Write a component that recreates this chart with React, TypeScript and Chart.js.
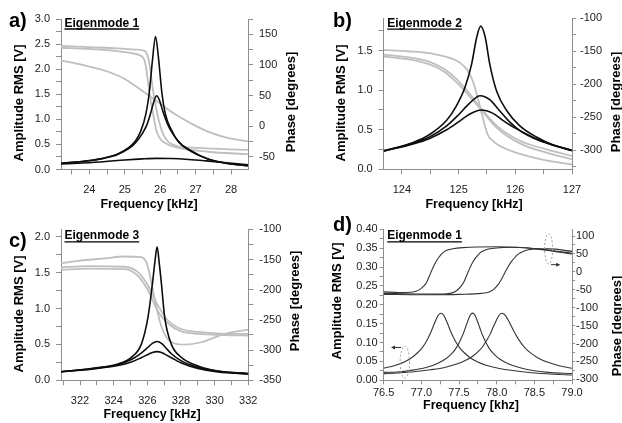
import React, { useEffect, useRef } from 'react';
import { Chart, registerables } from 'chart.js';

Chart.register(...registerables);

type Pt = [number, number];

// ---------- Panel a) Eigenmode 1 (frequency kHz, amplitude V, phase deg) ----------
const A_AMP_SHARP: Pt[] = [[23.2,0.125],[23.6,0.147],[24.0,0.178],[24.4,0.226],[24.8,0.31],[25.1,0.43],[25.3,0.57],[25.45,0.76],[25.6,1.12],[25.7,1.58],[25.78,2.16],[25.87,2.65],[25.95,2.24],[26.05,1.52],[26.15,1.1],[26.31,0.8],[26.5,0.57],[26.88,0.37],[27.35,0.21],[27.82,0.13],[28.48,0.075]];
const A_AMP_MID: Pt[] = [[23.2,0.124],[23.6,0.146],[24.0,0.176],[24.4,0.222],[24.8,0.3],[25.1,0.41],[25.3,0.53],[25.5,0.72],[25.63,0.9],[25.73,1.12],[25.82,1.35],[25.9,1.47],[25.98,1.38],[26.08,1.15],[26.2,0.92],[26.35,0.72],[26.55,0.53],[26.88,0.36],[27.35,0.21],[27.82,0.13],[28.48,0.075]];
const A_AMP_FLAT: Pt[] = [[23.2,0.11],[23.8,0.13],[24.4,0.155],[25.0,0.19],[25.5,0.212],[25.9,0.222],[26.3,0.218],[26.8,0.2],[27.3,0.172],[27.8,0.14],[28.48,0.095]];
const A_PH_EARLY: Pt[] = [[23.2,128],[24.0,126],[24.8,122.5],[25.3,118],[25.42,116],[25.5,113],[25.56,107],[25.6,96],[25.64,80],[25.68,61],[25.73,42],[25.8,20],[25.89,-7],[25.96,-17],[26.03,-23],[26.15,-28],[26.4,-34],[27.35,-42],[28.48,-46]];
const A_PH_LATE: Pt[] = [[23.2,131],[24.0,129],[24.8,127],[25.3,125],[25.56,123],[25.62,119],[25.67,110],[25.71,97],[25.75,80],[25.79,62],[25.84,43],[25.92,20],[26.03,-5],[26.1,-15],[26.2,-24],[26.31,-29],[26.5,-33],[26.8,-35],[27.5,-37],[28.48,-39]];
const A_PH_BROAD: Pt[] = [[23.2,107],[23.8,100],[24.47,90],[25.0,77],[25.41,61],[25.94,39],[26.4,20],[26.88,4],[27.35,-9],[27.82,-18],[28.48,-25]];

// ---------- Panel b) Eigenmode 2 ----------
const B_AMP_HIGH: Pt[] = [[123.68,0.235],[124.2,0.34],[124.49,0.44],[124.79,0.62],[124.96,0.8],[125.11,1.03],[125.23,1.33],[125.32,1.67],[125.39,1.81],[125.47,1.67],[125.55,1.33],[125.67,0.99],[125.85,0.74],[126.08,0.55],[126.38,0.405],[126.67,0.307],[127.0,0.235]];
const B_AMP_MID: Pt[] = [[123.68,0.233],[124.2,0.33],[124.49,0.41],[124.79,0.55],[125.0,0.69],[125.2,0.84],[125.38,0.93],[125.55,0.88],[125.7,0.76],[125.9,0.6],[126.1,0.48],[126.4,0.37],[126.7,0.3],[127.0,0.238]];
const B_AMP_LOW: Pt[] = [[123.68,0.23],[124.2,0.32],[124.49,0.39],[124.79,0.5],[125.0,0.6],[125.2,0.7],[125.4,0.75],[125.6,0.71],[125.8,0.61],[126.0,0.52],[126.3,0.41],[126.6,0.32],[127.0,0.24]];
const B_PH_SHARP: Pt[] = [[123.68,-148],[124.1,-150],[124.49,-153],[124.96,-164],[125.1,-173],[125.2,-185],[125.27,-200],[125.32,-215],[125.41,-245],[125.49,-271],[125.53,-279],[125.58,-284],[125.67,-291],[126.08,-306],[126.5,-315],[127.0,-322]];
const B_PH_BROAD1: Pt[] = [[123.68,-155],[124.1,-159],[124.49,-166],[124.75,-177],[124.96,-192],[125.2,-215],[125.38,-235],[125.67,-263],[126.08,-286],[126.55,-299],[127.0,-309]];
const B_PH_BROAD2: Pt[] = [[123.68,-158],[124.1,-162],[124.49,-170],[124.75,-181],[124.96,-197],[125.2,-219],[125.38,-237],[125.67,-266],[126.08,-290],[126.55,-304],[127.0,-314]];

// ---------- Panel c) Eigenmode 3 ----------
const C_AMP_HIGH: Pt[] = [[320.87,0.12],[322.67,0.165],[324.26,0.227],[325.05,0.32],[325.64,0.5],[326.04,0.88],[326.3,1.34],[326.45,1.65],[326.58,1.86],[326.7,1.65],[326.84,1.34],[327.03,0.88],[327.43,0.5],[328.02,0.32],[329.01,0.2],[330.2,0.13],[332.0,0.095]];
const C_AMP_MID: Pt[] = [[320.87,0.12],[322.67,0.16],[324.26,0.22],[325.05,0.29],[325.64,0.38],[326.04,0.46],[326.3,0.515],[326.58,0.54],[326.84,0.515],[327.03,0.47],[327.43,0.37],[328.02,0.27],[329.01,0.18],[330.2,0.125],[332.0,0.09]];
const C_AMP_LOW: Pt[] = [[320.87,0.118],[322.67,0.155],[324.26,0.205],[325.05,0.255],[325.64,0.315],[326.04,0.36],[326.3,0.388],[326.58,0.4],[326.84,0.388],[327.03,0.365],[327.43,0.315],[328.02,0.24],[329.01,0.165],[330.2,0.115],[332.0,0.088]];
const C_PH_NOISY: Pt[] = [[320.87,-156],[322.0,-152],[323.5,-148],[324.65,-145],[325.64,-146],[325.9,-152],[326.04,-163],[326.34,-202],[326.63,-240],[326.93,-268],[327.43,-287],[328.22,-291],[329.21,-287],[330.6,-273],[332.0,-266]];
const C_PH_SMOOTH1: Pt[] = [[320.87,-163],[322.5,-161],[324.65,-162],[325.44,-171],[326.04,-193],[326.63,-226],[327.23,-251],[328.02,-265],[329.01,-270],[330.6,-273],[332.0,-273]];
const C_PH_SMOOTH2: Pt[] = [[320.87,-167],[322.5,-165],[324.65,-166],[325.44,-177],[326.04,-201],[326.63,-236],[327.23,-256],[328.02,-269],[329.01,-273],[330.6,-275],[332.0,-276]];

// ---------- Panel d) Eigenmode 1 (three detunings) ----------
const D_AMP_1: Pt[] = [[76.5,0.032],[76.66,0.04],[76.78,0.049],[76.88,0.061],[76.96,0.075],[77.01,0.086],[77.06,0.101],[77.1,0.116],[77.14,0.134],[77.17,0.149],[77.2,0.163],[77.22,0.171],[77.24,0.176],[77.26,0.1775],[77.28,0.176],[77.3,0.171],[77.32,0.163],[77.35,0.149],[77.38,0.134],[77.42,0.116],[77.46,0.101],[77.51,0.086],[77.56,0.075],[77.64,0.061],[77.74,0.049],[77.86,0.04],[78.02,0.032],[78.21,0.026],[78.46,0.02],[78.76,0.016],[79.0,0.014]];
const D_AMP_2: Pt[] = [[76.5,0.021],[76.68,0.022],[76.88,0.027],[77.06,0.034],[77.2,0.043],[77.31,0.055],[77.39,0.068],[77.45,0.082],[77.5,0.099],[77.54,0.116],[77.57,0.131],[77.6,0.148],[77.62,0.159],[77.64,0.169],[77.66,0.1755],[77.68,0.178],[77.7,0.1755],[77.72,0.169],[77.74,0.159],[77.76,0.148],[77.79,0.131],[77.82,0.116],[77.86,0.099],[77.91,0.082],[77.97,0.068],[78.05,0.055],[78.16,0.043],[78.3,0.034],[78.48,0.026],[78.68,0.021],[79.0,0.018]];
const D_AMP_3: Pt[] = [[76.5,0.017],[76.87,0.022],[77.12,0.028],[77.31,0.034],[77.47,0.043],[77.59,0.053],[77.69,0.065],[77.77,0.079],[77.82,0.091],[77.87,0.107],[77.91,0.121],[77.95,0.139],[77.98,0.152],[78.01,0.165],[78.03,0.1715],[78.05,0.176],[78.07,0.1775],[78.09,0.1763],[78.11,0.1727],[78.13,0.1674],[78.16,0.157],[78.19,0.145],[78.23,0.129],[78.27,0.115],[78.32,0.0998],[78.37,0.0875],[78.45,0.0725],[78.55,0.0593],[78.67,0.0484],[78.83,0.0387],[79.0,0.0319]];
const D_PH_1: Pt[] = [[76.5,-56],[76.7,-57.5],[76.85,-57],[76.93,-54],[76.98,-49],[77.03,-40],[77.07,-29],[77.11,-10],[77.15,10],[77.19,27],[77.23,40],[77.27,50],[77.31,57],[77.36,61.5],[77.42,64.5],[77.55,67.5],[77.75,69.5],[78.0,70],[78.3,68],[78.6,62],[79.0,50]];
const D_PH_2: Pt[] = [[76.5,-60],[77.0,-62],[77.3,-62],[77.42,-58],[77.47,-52],[77.52,-42],[77.56,-30],[77.6,-11],[77.64,9],[77.68,26],[77.72,39],[77.76,49],[77.8,56],[77.85,61],[77.91,64.5],[78.05,67.5],[78.25,68.5],[78.5,65],[78.75,59],[79.0,52]];
const D_PH_3: Pt[] = [[76.5,-63],[77.0,-64],[77.5,-63],[77.8,-60],[77.9,-56],[77.96,-49],[78.01,-38],[78.06,-22],[78.1,-6],[78.14,10],[78.19,27],[78.24,40],[78.29,50],[78.35,57],[78.42,61.5],[78.52,64],[78.7,64],[79.0,57]];

// annotation anchors in panel d (data units: kHz, axis value)
const D_NOTE_PHASE = { f: 78.69, v: 64, arrowFrom: 78.72, arrowTo: 78.83, arrowV: 20 };
const D_NOTE_AMP = { f: 76.78, v: 0.048, arrowFrom: 76.73, arrowTo: 76.61, arrowV: 0.087 };

// ---------- styles ----------
const FONT = "'Liberation Sans', Arial, Helvetica, sans-serif";
const AXIS_COLOR = '#8e8e8e';
const TEXT_COLOR = '#1c1c1c';
const AMP_COLOR = '#0d0d0d';
const PHASE_COLOR = '#bfbfbf';
const D_COLOR = '#353535';

interface AxisCfg { min: number; max: number; step: number; every: number; dec: number; tl: number; pad: number; }
interface Spec {
  key: string; letter: string; mode: string; xTitle: string;
  left: number; top: number; w: number; h: number;
  padTop: number; yLW: number; yRW: number; xH: number;
  x: AxisCfg; yL: AxisCfg; yR: AxisCfg;
  amp: Pt[][]; phase: Pt[][];
  ampColor: string; phaseColor: string; ampWidth: number; phaseWidth: number;
  letterX: number; letterY: number; modeDy: number;
  yLTitleX: number; yLTitleY: number; yRTitleX: number; yRTitleY: number;
  xTitleX: number; xTitleY: number;
  notes?: boolean;
}

const SPECS: Spec[] = [
  {
    key: 'a', letter: 'a)', mode: 'Eigenmode 1', xTitle: 'Frequency [kHz]',
    left: 0, top: 0, w: 311, h: 211, padTop: 19, yLW: 61, yRW: 63, xH: 41.5,
    x: { min: 23.2, max: 28.48, step: 0.5, every: 1, dec: 0, tl: 5, pad: 9 },
    yL: { min: 0, max: 3.0, step: 0.25, every: 0.5, dec: 1, tl: 5, pad: 6 },
    yR: { min: -71, max: 175, step: 25, every: 50, dec: 0, tl: 5, pad: 6 },
    amp: [A_AMP_SHARP, A_AMP_MID, A_AMP_FLAT], phase: [A_PH_EARLY, A_PH_LATE, A_PH_BROAD],
    ampColor: AMP_COLOR, phaseColor: PHASE_COLOR, ampWidth: 1.6, phaseWidth: 1.8,
    letterX: 9, letterY: 27, modeDy: 7.5,
    yLTitleX: 19.5, yLTitleY: 103, yRTitleX: 291, yRTitleY: 102, xTitleX: 149, xTitleY: 205,
  },
  {
    key: 'b', letter: 'b)', mode: 'Eigenmode 2', xTitle: 'Frequency [kHz]',
    left: 311, top: 0, w: 311, h: 211, padTop: 18, yLW: 72.7, yRW: 50, xH: 41.7,
    x: { min: 123.68, max: 127, step: 0.5, every: 1, dec: 0, tl: 5, pad: 9 },
    yL: { min: 0, max: 1.913, step: 0.25, every: 0.5, dec: 1, tl: 5, pad: 6 },
    yR: { min: -329.3, max: -99.5, step: 25, every: 50, dec: 0, tl: 4, pad: 4 },
    amp: [B_AMP_HIGH, B_AMP_MID, B_AMP_LOW], phase: [B_PH_SHARP, B_PH_BROAD1, B_PH_BROAD2],
    ampColor: AMP_COLOR, phaseColor: PHASE_COLOR, ampWidth: 1.6, phaseWidth: 1.8,
    letterX: 22, letterY: 27, modeDy: 8.7,
    yLTitleX: 30, yLTitleY: 103, yRTitleX: 305, yRTitleY: 102, xTitleX: 163, xTitleY: 205,
  },
  {
    key: 'c', letter: 'c)', mode: 'Eigenmode 3', xTitle: 'Frequency [kHz]',
    left: 0, top: 211, w: 311, h: 212, padTop: 18.3, yLW: 61, yRW: 62.7, xH: 42.7,
    x: { min: 320.87, max: 332, step: 1, every: 2, dec: 0, tl: 5, pad: 9 },
    yL: { min: 0, max: 2.103, step: 0.25, every: 0.5, dec: 1, tl: 5, pad: 6 },
    yR: { min: -350, max: -100, step: 25, every: 50, dec: 0, tl: 5, pad: 6 },
    amp: [C_AMP_HIGH, C_AMP_MID, C_AMP_LOW], phase: [C_PH_NOISY, C_PH_SMOOTH1, C_PH_SMOOTH2],
    ampColor: AMP_COLOR, phaseColor: PHASE_COLOR, ampWidth: 1.6, phaseWidth: 1.8,
    letterX: 9, letterY: 35.5, modeDy: 10,
    yLTitleX: 19.5, yLTitleY: 103, yRTitleX: 295, yRTitleY: 90, xTitleX: 152, xTitleY: 204,
  },
  {
    key: 'd', letter: 'd)', mode: 'Eigenmode 1', xTitle: 'Frequency [khz]',
    left: 311, top: 211, w: 311, h: 212, padTop: 18.3, yLW: 72.7, yRW: 50, xH: 42.7,
    x: { min: 76.5, max: 79.0, step: 0.25, every: 0.5, dec: 1, tl: 4, pad: 2 },
    yL: { min: 0, max: 0.4, step: 0.025, every: 0.05, dec: 2, tl: 4, pad: 2 },
    yR: { min: -302.7, max: 118.7, step: 25, every: 50, dec: 0, tl: 3, pad: 1 },
    amp: [D_AMP_1, D_AMP_2, D_AMP_3], phase: [D_PH_1, D_PH_2, D_PH_3],
    ampColor: D_COLOR, phaseColor: D_COLOR, ampWidth: 1.1, phaseWidth: 1.1,
    letterX: 22, letterY: 19.5, modeDy: 10,
    yLTitleX: 26, yLTitleY: 90, yRTitleX: 306, yRTitleY: 115, xTitleX: 160, xTitleY: 195,
    notes: true,
  },
];

function isMultiple(v: number, step: number) {
  const r = v / step;
  return Math.abs(r - Math.round(r)) < 1e-6;
}

function tickLabel(v: number, c: AxisCfg) {
  return isMultiple(v, c.every) ? Number(v).toFixed(c.dec) : '';
}

function scaleOpts(c: AxisCfg, position: string, fit: (s: any) => void) {
  return {
    type: 'linear',
    position,
    min: c.min,
    max: c.max,
    afterFit: fit,
    grid: { drawOnChartArea: false, drawTicks: true, tickLength: c.tl, color: AXIS_COLOR, lineWidth: 1 },
    border: { display: true, color: AXIS_COLOR, width: 1 },
    title: { display: false },
    ticks: {
      stepSize: c.step,
      autoSkip: false,
      includeBounds: false,
      maxRotation: 0,
      minRotation: 0,
      padding: c.pad,
      color: TEXT_COLOR,
      font: { family: FONT, size: 11 },
      callback: (v: any) => tickLabel(Number(v), c),
    },
  };
}

function line(pts: Pt[], color: string, width: number, axis: string) {
  return {
    data: pts.map(([x, y]) => ({ x, y })),
    borderColor: color,
    backgroundColor: color,
    borderWidth: width,
    pointRadius: 0,
    fill: false,
    yAxisID: axis,
    cubicInterpolationMode: 'monotone',
  };
}

function textPlugin(s: Spec) {
  return {
    id: 'panelText' + s.key,
    afterDraw(chart: any) {
      const { ctx, chartArea } = chart;
      ctx.save();
      ctx.fillStyle = '#000';
      ctx.textAlign = 'left';
      ctx.textBaseline = 'alphabetic';
      ctx.font = `bold 20px ${FONT}`;
      ctx.fillText(s.letter, s.letterX, s.letterY);

      ctx.font = `bold 12px ${FONT}`;
      const ex = chartArea.left + 3.5;
      const ey = chartArea.top + s.modeDy;
      ctx.fillText(s.mode, ex, ey);
      const w = ctx.measureText(s.mode).width;
      ctx.strokeStyle = '#000';
      ctx.lineWidth = 1.3;
      ctx.beginPath();
      ctx.moveTo(ex, ey + 2.5);
      ctx.lineTo(ex + w, ey + 2.5);
      ctx.stroke();

      ctx.textAlign = 'center';
      ctx.textBaseline = 'middle';
      ctx.font = `bold 13px ${FONT}`;
      const rot = (t: string, x: number, y: number) => {
        ctx.save();
        ctx.translate(x, y);
        ctx.rotate(-Math.PI / 2);
        ctx.fillText(t, 0, 0);
        ctx.restore();
      };
      rot('Amplitude RMS [V]', s.yLTitleX, s.yLTitleY);
      rot('Phase [degrees]', s.yRTitleX, s.yRTitleY);
      ctx.font = `bold 12.5px ${FONT}`;
      ctx.fillText(s.xTitle, s.xTitleX, s.xTitleY);
      ctx.restore();
    },
  };
}

function notesPlugin() {
  return {
    id: 'dNotes',
    afterDatasetsDraw(chart: any) {
      const { ctx } = chart;
      const x = chart.scales.x;
      const yL = chart.scales.yL;
      const yR = chart.scales.yR;
      const drawNote = (n: any, ys: any, rx: number, ry: number, dir: number) => {
        const cx = x.getPixelForValue(n.f);
        const cy = ys.getPixelForValue(n.v);
        ctx.save();
        ctx.strokeStyle = '#9a9a9a';
        ctx.lineWidth = 1;
        ctx.setLineDash([2, 2]);
        ctx.beginPath();
        ctx.ellipse(cx, cy, rx, ry, 0, 0, Math.PI * 2);
        ctx.stroke();
        ctx.setLineDash([]);
        const ay = ys.getPixelForValue(n.arrowV);
        const x1 = x.getPixelForValue(n.arrowFrom);
        const x2 = x.getPixelForValue(n.arrowTo);
        ctx.strokeStyle = '#333';
        ctx.fillStyle = '#333';
        ctx.beginPath();
        ctx.moveTo(x1, ay);
        ctx.lineTo(x2, ay);
        ctx.stroke();
        ctx.beginPath();
        ctx.moveTo(x2 + dir * 1, ay);
        ctx.lineTo(x2 - dir * 3, ay - 2);
        ctx.lineTo(x2 - dir * 3, ay + 2);
        ctx.closePath();
        ctx.fill();
        ctx.restore();
      };
      drawNote(D_NOTE_PHASE, yR, 4, 15, 1);
      drawNote(D_NOTE_AMP, yL, 4.7, 16, -1);
    },
  };
}

function buildConfig(s: Spec): any {
  const datasets = [
    ...s.amp.map((p) => line(p, s.ampColor, s.ampWidth, 'yL')),
    ...s.phase.map((p) => line(p, s.phaseColor, s.phaseWidth, 'yR')),
  ];
  const plugins: any[] = [textPlugin(s)];
  if (s.notes) plugins.push(notesPlugin());
  return {
    type: 'line',
    data: { datasets },
    plugins,
    options: {
      animation: false,
      responsive: false,
      maintainAspectRatio: false,
      devicePixelRatio: 1,
      events: [],
      parsing: true,
      layout: { padding: { left: 0, right: 0, top: s.padTop, bottom: 0 } },
      plugins: { legend: { display: false }, tooltip: { enabled: false }, title: { display: false } },
      scales: {
        x: scaleOpts(s.x, 'bottom', (sc: any) => { sc.height = s.xH; }),
        yL: scaleOpts(s.yL, 'left', (sc: any) => { sc.width = s.yLW; }),
        yR: scaleOpts(s.yR, 'right', (sc: any) => { sc.width = s.yRW; }),
      },
    },
  };
}

function Panel({ spec }: { spec: Spec }) {
  const ref = useRef<HTMLCanvasElement | null>(null);
  useEffect(() => {
    if (!ref.current) return;
    const chart = new Chart(ref.current, buildConfig(spec));
    return () => chart.destroy();
  }, [spec]);
  return (
    <canvas
      ref={ref}
      width={spec.w}
      height={spec.h}
      style={{ position: 'absolute', left: spec.left, top: spec.top, width: spec.w, height: spec.h, display: 'block' }}
    />
  );
}

export default function App() {
  return (
    <div style={{ position: 'fixed', left: 0, top: 0, width: 622, height: 423, background: '#fff', overflow: 'hidden' }}>
      {SPECS.map((s) => (
        <Panel key={s.key} spec={s} />
      ))}
    </div>
  );
}
